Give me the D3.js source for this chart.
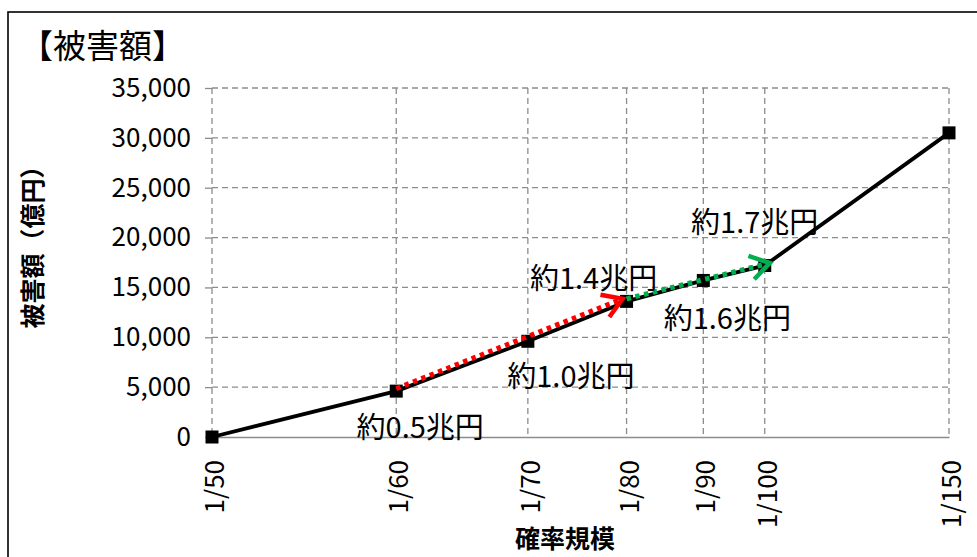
<!DOCTYPE html>
<html lang="ja">
<head>
<meta charset="utf-8">
<script src="https://cdn.jsdelivr.net/npm/d3@7"></script>
<style>
  html, body { margin: 0; padding: 0; background: #fff; }
  svg { display: block; font-family: "Noto Sans CJK JP", "Noto Sans", sans-serif; }
</style>
</head>
<body>
<svg id="chart" width="977" height="557"></svg>
<script>
// Return-period categories (annual exceedance probability) and damage in 億円
const periods = [50, 60, 70, 80, 90, 100, 150];
const periodLabels = ["1/50", "1/60", "1/70", "1/80", "1/90", "1/100", "1/150"];
const damage = [0, 4600, 9600, 13600, 15700, 17200, 30500];
const yTicks = [0, 5000, 10000, 15000, 20000, 25000, 30000, 35000];

// Increment annotations: label text and the period it belongs to
const noteText = ["約0.5兆円", "約1.0兆円", "約1.4兆円", "約1.6兆円", "約1.7兆円"];
const notePeriod = [60, 70, 80, 90, 100];

// Arrows: from period, to period, colour
const arrowFrom = [60, 80];
const arrowTo = [80, 100];
const arrowColor = ["#ff0000", "#00b050"];

const svg = d3.select("#chart");
const plot = { left: 212, right: 949, top: 88, bottom: 437 };

const x = d3.scaleLinear().domain([1 / 50, 1 / 150]).range([plot.left, plot.right]);
const y = d3.scaleLinear().domain([0, 35000]).range([plot.bottom, plot.top]);
const valueAt = p => damage[periods.indexOf(p)];

// outer frame
svg.append("rect")
  .attr("x", 8).attr("y", 12).attr("width", 1000).attr("height", 600)
  .attr("fill", "none").attr("stroke", "#000").attr("stroke-width", 1.6);

// title
svg.append("text")
  .attr("x", 20).attr("y", 58)
  .attr("font-size", 33).attr("fill", "#000")
  .text("【被害額】");

// horizontal gridlines
svg.append("g").selectAll("line")
  .data(yTicks.filter(d => d > 0))
  .join("line")
  .attr("x1", plot.left).attr("x2", plot.right)
  .attr("y1", d => y(d)).attr("y2", d => y(d))
  .attr("stroke", "#8c8c8c").attr("stroke-width", 1.3)
  .attr("stroke-dasharray", "6,4");

// vertical gridlines
svg.append("g").selectAll("line")
  .data(periods)
  .join("line")
  .attr("x1", d => x(1 / d)).attr("x2", d => x(1 / d))
  .attr("y1", plot.top).attr("y2", plot.bottom)
  .attr("stroke", "#8c8c8c").attr("stroke-width", 1.3)
  .attr("stroke-dasharray", "6,4");

// y axis (ticks outside, labels)
const yAxis = d3.axisLeft(y)
  .tickValues(yTicks)
  .tickSize(7)
  .tickPadding(14)
  .tickFormat(d3.format(","));
const gy = svg.append("g")
  .attr("transform", `translate(${plot.left},0)`)
  .call(yAxis);
gy.select(".domain").remove();
gy.selectAll(".tick line").attr("stroke", "#8c8c8c").attr("stroke-width", 1.3);
gy.selectAll(".tick text")
  .attr("font-family", "\"Noto Sans CJK JP\", sans-serif")
  .attr("font-size", 26).attr("fill", "#000");

// x axis baseline and rotated labels
const xAxis = d3.axisBottom(x)
  .tickValues(periods.map(p => 1 / p))
  .tickSize(0)
  .tickFormat((d, i) => periodLabels[i]);
const gx = svg.append("g")
  .attr("transform", `translate(0,${plot.bottom})`)
  .call(xAxis);
gx.select(".domain").attr("stroke", "#8c8c8c").attr("stroke-width", 1.6);
gx.selectAll(".tick text")
  .attr("font-family", "\"Noto Sans CJK JP\", sans-serif")
  .attr("font-size", 26).attr("fill", "#000")
  .attr("text-anchor", "end")
  .attr("dy", null).attr("y", null)
  .attr("transform", "translate(0,23) rotate(-90)")
  .attr("dominant-baseline", "central");

// axis titles
svg.append("text")
  .attr("transform", "translate(31,241) rotate(-90)")
  .attr("text-anchor", "middle").attr("dominant-baseline", "central")
  .attr("font-size", 25).attr("font-weight", "bold").attr("fill", "#000")
  .text("被害額（億円）");
svg.append("text")
  .attr("x", 565).attr("y", 537)
  .attr("text-anchor", "middle").attr("dominant-baseline", "central")
  .attr("font-size", 25).attr("font-weight", "bold").attr("fill", "#000")
  .text("確率規模");

// damage curve
const line = d3.line().x((d, i) => x(1 / periods[i])).y(d => y(d));
svg.append("path")
  .datum(damage)
  .attr("d", line)
  .attr("fill", "none").attr("stroke", "#000").attr("stroke-width", 3.8)
  .attr("stroke-linejoin", "round");

// square markers
const ms = 13;
svg.append("g").selectAll("rect")
  .data(damage)
  .join("rect")
  .attr("x", (d, i) => x(1 / periods[i]) - ms / 2)
  .attr("y", d => y(d) - ms / 2)
  .attr("width", ms).attr("height", ms)
  .attr("fill", "#000");

// arrowhead markers
const defs = svg.append("defs");
arrowColor.forEach((c, i) => {
  defs.append("marker")
    .attr("id", "arrow" + i)
    .attr("markerUnits", "userSpaceOnUse")
    .attr("viewBox", "-26 -16 30 32")
    .attr("refX", 0).attr("refY", 0)
    .attr("markerWidth", 30).attr("markerHeight", 32)
    .attr("orient", "auto")
    .append("path")
    .attr("d", "M-19,-12 L0,0 L-19,12")
    .attr("fill", "none").attr("stroke", c).attr("stroke-width", 4.5)
    .attr("stroke-dasharray", "none")
    .attr("stroke-linejoin", "miter");
});

// dotted increment arrows
svg.append("g").selectAll("line")
  .data(arrowFrom)
  .join("line")
  .attr("x1", d => x(1 / d))
  .attr("y1", d => y(valueAt(d)) - 2.5)
  .attr("x2", (d, i) => x(1 / arrowTo[i]) + (i === 0 ? -4 : 5))
  .attr("y2", (d, i) => y(valueAt(arrowTo[i])) - 2.5)
  .attr("stroke", (d, i) => arrowColor[i])
  .attr("stroke-width", 5)
  .attr("stroke-dasharray", "4.5,4.5")
  .attr("marker-end", (d, i) => `url(#arrow${i})`);

// increment labels placed around their points
const noteOffset = [[24, 34], [43, 33], [-33, -25], [24, 36], [-10, -45]];
svg.append("g").selectAll("text")
  .data(noteText)
  .join("text")
  .attr("x", (d, i) => x(1 / notePeriod[i]) + noteOffset[i][0])
  .attr("y", (d, i) => y(valueAt(notePeriod[i])) + noteOffset[i][1])
  .attr("text-anchor", "middle").attr("dominant-baseline", "central")
  .attr("font-size", 29).attr("fill", "#000")
  .text(d => d);
</script>
</body>
</html>
